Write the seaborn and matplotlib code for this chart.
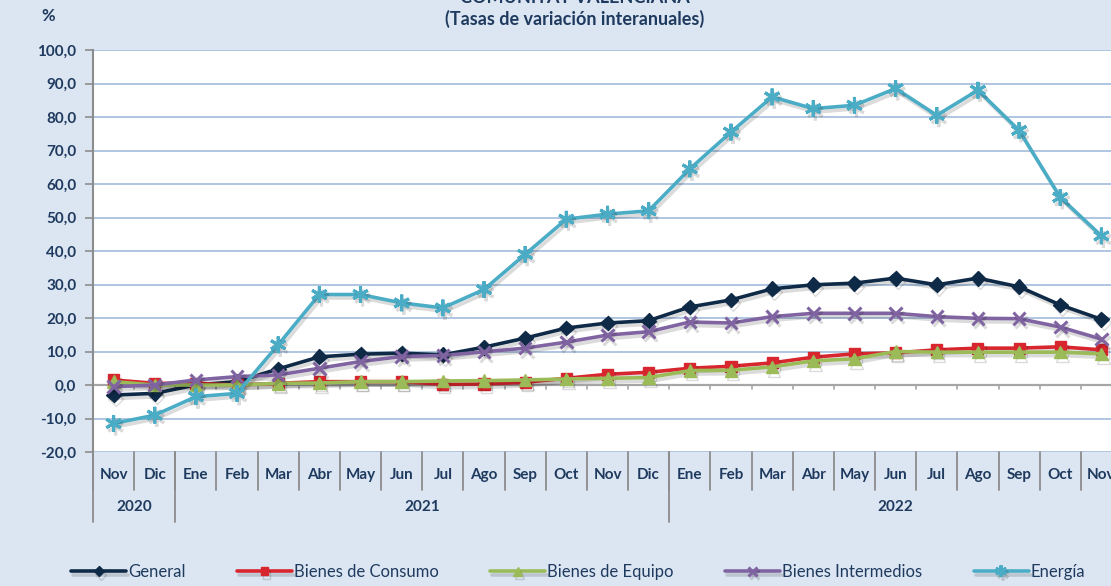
import matplotlib
matplotlib.use("Agg")
import matplotlib.pyplot as plt
import matplotlib.patheffects as pe
import matplotlib.transforms as mtransforms
import numpy as np
import pandas as pd
import seaborn as sns

months = ["Nov", "Dic", "Ene", "Feb", "Mar", "Abr", "May", "Jun", "Jul", "Ago", "Sep", "Oct",
          "Nov", "Dic", "Ene", "Feb", "Mar", "Abr", "May", "Jun", "Jul", "Ago", "Sep", "Oct", "Nov"]
years = ["2020", "2021", "2022"]
year_spans = [(0, 2), (2, 14), (14, 25)]

general = [-3.0, -2.5, 0.0, 1.0, 4.8, 8.4, 9.2, 9.5, 9.0, 11.3, 14.0, 17.0, 18.5,
           19.2, 23.3, 25.4, 28.7, 29.9, 30.4, 31.9, 29.9, 31.9, 29.3, 23.9, 19.6]
consumo = [1.5, 0.5, 0.5, 0.0, 0.5, 1.0, 1.0, 1.0, 0.2, 0.3, 0.8, 2.0, 3.2,
           3.8, 5.0, 5.6, 6.6, 8.3, 9.3, 9.6, 10.5, 11.0, 11.0, 11.4, 10.5]
equipo = [1.0, 0.0, 0.0, 0.0, 0.5, 0.6, 1.0, 1.0, 1.2, 1.3, 1.5, 1.8, 2.0,
          2.2, 4.3, 4.4, 5.4, 7.2, 7.8, 10.0, 9.8, 9.8, 9.8, 9.8, 9.3]
intermedios = [-0.5, 0.0, 1.5, 2.5, 3.0, 5.0, 7.0, 8.5, 8.8, 9.9, 11.0, 12.8, 14.9,
               15.9, 18.8, 18.5, 20.4, 21.4, 21.4, 21.4, 20.4, 19.9, 19.8, 17.3, 13.7]
energia = [-11.5, -9.0, -3.5, -2.5, 12.0, 27.0, 27.0, 24.5, 23.0, 28.5, 39.0, 49.5, 51.0,
           52.0, 64.5, 75.5, 86.0, 82.5, 83.5, 88.5, 80.5, 88.0, 76.0, 56.0, 44.5]

series_names = ["General", "Bienes de Consumo", "Bienes de Equipo", "Bienes Intermedios", "Energía"]
series_values = [general, consumo, equipo, intermedios, energia]
colors = ["#0f2a47", "#d7262e", "#9bbb59", "#8064a2", "#4bacc6"]
markers = ["D", "s", "^", "x", (6, 2, 0)]
marker_sizes = [7.5, 8, 9, 9, 12]

pos = np.arange(len(months))
df = pd.concat(
    [pd.DataFrame({"pos": pos, "valor": vals, "serie": name})
     for name, vals in zip(series_names, series_values)],
    ignore_index=True,
)

sns.set_theme(style="white")
plt.rcParams["font.family"] = ["Lato", "DejaVu Sans"]

text_color = "#1f3a5f"
bg = "#dce6f2"
fig = plt.figure(figsize=(11.11, 5.86), dpi=100, facecolor=bg)
ax = fig.add_axes([93 / 1111, 1 - 452 / 586, 1029 / 1111, 402 / 586])
ax.set_facecolor("white")

for name, color, mk, ms in zip(series_names, colors, markers, marker_sizes):
    sub = df[df["serie"] == name]
    sns.lineplot(data=sub, x="pos", y="valor", ax=ax, color=color, marker=mk,
                 markersize=ms, markeredgecolor=color, markeredgewidth=2.2 if mk in ("x", (6, 2, 0)) else 1,
                 linewidth=2.6, label=name, zorder=3)

for line in ax.get_lines():
    line.set_path_effects([pe.SimpleLineShadow(offset=(1.5, -2.5), alpha=0.14, shadow_color="black"),
                           pe.Normal()])

ax.set_xlim(-0.5, len(months) - 0.5)
ax.set_ylim(-20, 100)
yt = np.arange(-20, 101, 10)
ax.set_yticks(yt)
ax.set_yticklabels([f"{v:.1f}".replace(".", ",") for v in yt], fontsize=11,
                   fontweight="bold", color=text_color)
for v in yt:
    if v != 0:
        ax.axhline(v, color="#a9c0dd", lw=1.3, zorder=1)
ax.axhline(0, color="#a6a6a6", lw=1.6, zorder=2)
ax.tick_params(axis="y", length=6, width=1.2, color="#8c8c8c", pad=6, left=True)
ax.set_xticks([])
ax.set_xlabel("")
ax.set_ylabel("")
for s in ["top", "right", "bottom"]:
    ax.spines[s].set_visible(False)
ax.spines["left"].set_color("#8c8c8c")
ax.spines["left"].set_linewidth(1.5)

# small ticks under the zero line
for b in np.arange(0.5, len(months) - 0.5):
    ax.plot([b, b], [0, -1.3], color="#a6a6a6", lw=1.2, zorder=2)

trans = mtransforms.blended_transform_factory(ax.transData, ax.transAxes)
# month labels and separators
for i, m in enumerate(months):
    ax.text(i, -0.058, m, transform=trans, ha="center", va="center", fontsize=11,
            fontweight="bold", color=text_color, clip_on=False)
for b in np.arange(-0.5, len(months)):
    ax.plot([b, b], [0, -0.095], transform=trans, color="#8c8c8c", lw=1.3, clip_on=False)
for yr, (a, b) in zip(years, year_spans):
    ax.plot([a - 0.5, a - 0.5], [0, -0.175], transform=trans, color="#8c8c8c", lw=1.3, clip_on=False)
    ax.text((a + b - 1) / 2, -0.138, yr, transform=trans, ha="center", va="center",
            fontsize=11, fontweight="bold", color=text_color, clip_on=False)

fig.text(48 / 1111, 1 - 16 / 586, "%", ha="center", va="center", fontsize=12,
         fontweight="bold", color=text_color)
fig.text(575 / 1111, 1 - 3 / 586, "COMUNITAT VALENCIANA", ha="center", va="baseline",
         fontsize=13, fontweight="bold", color=text_color)
fig.text(575 / 1111, 1 - 19 / 586, "(Tasas de variación interanuales)", ha="center",
         va="center", fontsize=13, fontweight="bold", color=text_color)

handles, labels = ax.get_legend_handles_labels()
ax.legend_.remove()
fig.legend(handles, labels, loc="center", bbox_to_anchor=(578 / 1111, 14 / 586), ncol=5,
           frameon=False, handlelength=3.3, columnspacing=3.1, handletextpad=0.1,
           prop={"size": 12}, labelcolor=text_color, markerscale=0.7)

fig.savefig("out.png", dpi=100, facecolor=bg)
